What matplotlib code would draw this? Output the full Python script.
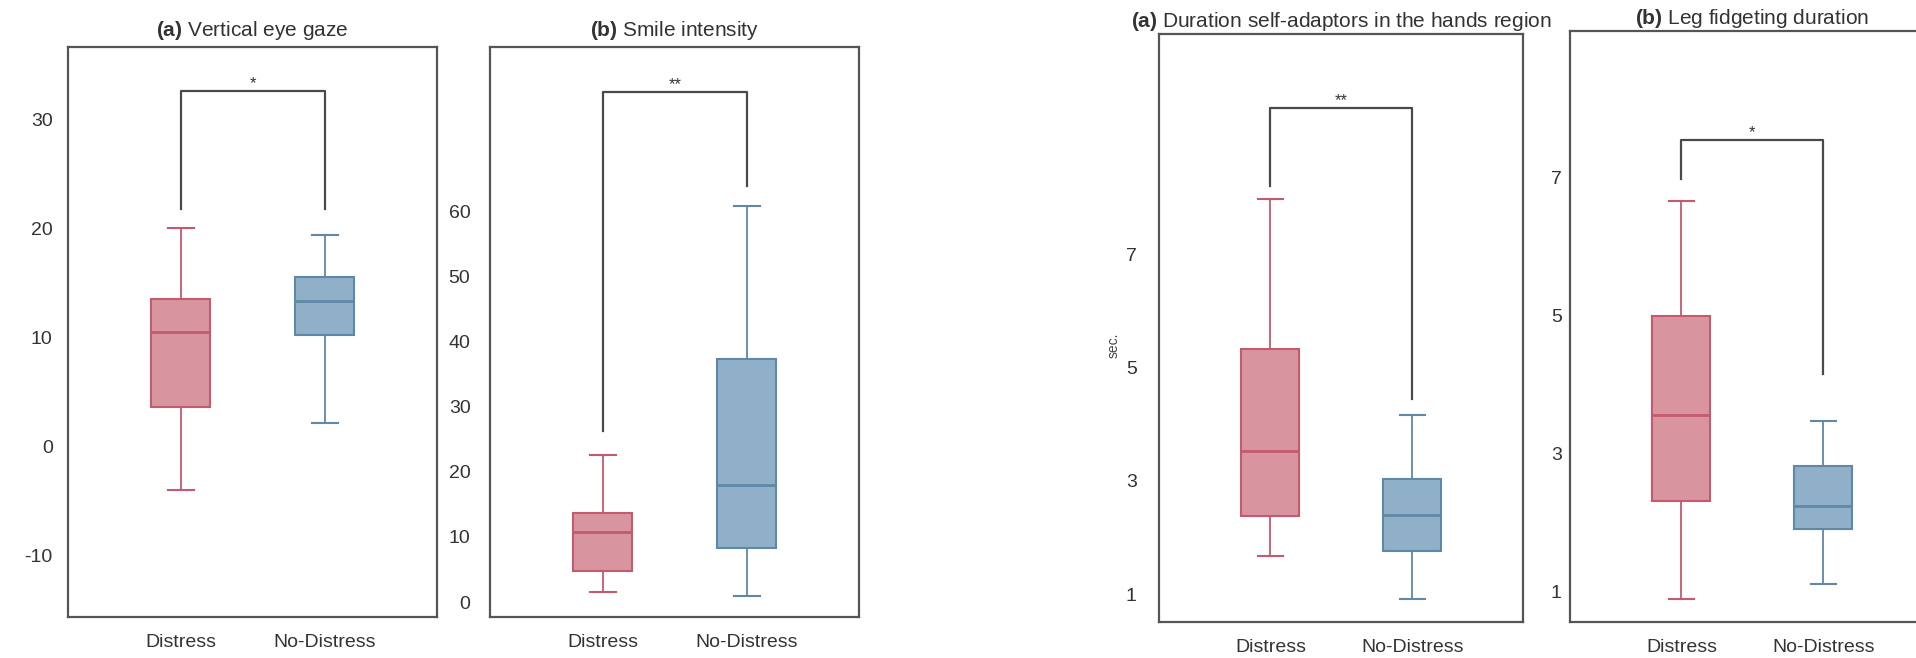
import matplotlib
matplotlib.use("Agg")
import matplotlib.pyplot as plt

plt.rcParams['font.family'] = ['Liberation Sans', 'DejaVu Sans']
plt.rcParams['mathtext.fontset'] = 'custom'
plt.rcParams['mathtext.bf'] = 'Liberation Sans:bold'
plt.rcParams['mathtext.rm'] = 'Liberation Sans'
plt.rcParams['axes.unicode_minus'] = False

groups = ['Distress', 'No-Distress']

# box stats per panel: (whislo, q1, med, q3, whishi) for Distress / No-Distress
gaze_stats = [(-4.0, 3.6, 10.5, 13.5, 20.0), (2.2, 10.2, 13.3, 15.5, 19.4)]
smile_stats = [(1.6, 4.8, 10.8, 13.6, 22.5), (1.0, 8.3, 17.9, 37.3, 60.8)]
hands_stats = [(1.67, 2.38, 3.53, 5.33, 7.98), (0.92, 1.76, 2.40, 3.04, 4.16)]
leg_stats = [(0.89, 2.31, 3.56, 5.00, 6.67), (1.11, 1.91, 2.24, 2.82, 3.47)]

# significance brackets: (top, left leg end, right leg end, label)
gaze_sig = (32.6, 21.8, 21.8, '*')
smile_sig = (78.3, 26.3, 63.8, '**')
hands_sig = (9.58, 8.2, 4.44, '**')
leg_sig = (7.55, 6.98, 4.15, '*')

titles = [r'$\bf{(a)}$ Vertical eye gaze', r'$\bf{(b)}$ Smile intensity',
          r'$\bf{(a)}$ Duration self-adaptors in the hands region',
          r'$\bf{(b)}$ Leg fidgeting duration']
yticks = [[-10, 0, 10, 20, 30], [0, 10, 20, 30, 40, 50, 60], [1, 3, 5, 7], [1, 3, 5, 7]]
ylims = [(-15.6, 36.6), (-2.3, 85.2), (0.51, 10.9), (0.56, 9.13)]

fill_cols = ['#d9959f', '#90b0c9']
edge_cols = ['#c45a6c', '#5f88a8']

fig = plt.figure(figsize=(19.16, 6.58), dpi=100)
rects = [[0.0355, 0.0623, 0.1925, 0.8663],
         [0.2557, 0.0623, 0.1926, 0.8663],
         [0.6049, 0.0547, 0.1900, 0.8943],
         [0.8194, 0.0547, 0.1900, 0.8983]]
ypads = [11, 14, 16, 6]
tpads = [8, 8, 5, 5]

all_stats = [gaze_stats, smile_stats, hands_stats, leg_stats]
all_sig = [gaze_sig, smile_sig, hands_sig, leg_sig]

for i in range(4):
    ax = fig.add_axes(rects[i])
    stats = []
    for k, s in enumerate(all_stats[i]):
        stats.append({'whislo': s[0], 'q1': s[1], 'med': s[2], 'q3': s[3],
                      'whishi': s[4], 'fliers': [], 'label': groups[k]})
    bp = ax.bxp(stats, positions=[1, 2], widths=0.41, patch_artist=True,
                showfliers=False, capwidths=0.18)
    for k in range(2):
        bp['boxes'][k].set_facecolor(fill_cols[k])
        bp['boxes'][k].set_edgecolor(edge_cols[k])
        bp['boxes'][k].set_linewidth(1.5)
        bp['medians'][k].set_color(edge_cols[k])
        bp['medians'][k].set_linewidth(2)
        for j in (2 * k, 2 * k + 1):
            bp['whiskers'][j].set_color(edge_cols[k])
            bp['whiskers'][j].set_linewidth(1.3)
            bp['caps'][j].set_color(edge_cols[k])
            bp['caps'][j].set_linewidth(1.5)

    top, l_end, r_end, lab = all_sig[i]
    ax.plot([1, 1, 2, 2], [l_end, top, top, r_end], color='#4a4a4a', lw=1.6)
    ax.text(1.5, top, lab, ha='center', va='bottom', fontsize=12, color='#333333')

    ax.set_xlim(0.215, 2.78)
    ax.set_ylim(*ylims[i])
    ax.set_yticks(yticks[i])
    ax.set_xticks([1, 2])
    ax.set_xticklabels(groups)
    ax.tick_params(axis='y', length=0, pad=ypads[i], labelsize=14, labelcolor='#333333')
    ax.tick_params(axis='x', length=0, pad=12, labelsize=14, labelcolor='#333333')
    for sp in ax.spines.values():
        sp.set_color('#555555')
        sp.set_linewidth(1.6)
    ax.set_title(titles[i], fontsize=15, color='#333333', pad=tpads[i])
    if i == 2:
        ax.set_ylabel('sec.', fontsize=10, color='#444444')
        ax.yaxis.set_label_coords(-0.105, 0.47)

fig.savefig('out.png', dpi=100)
